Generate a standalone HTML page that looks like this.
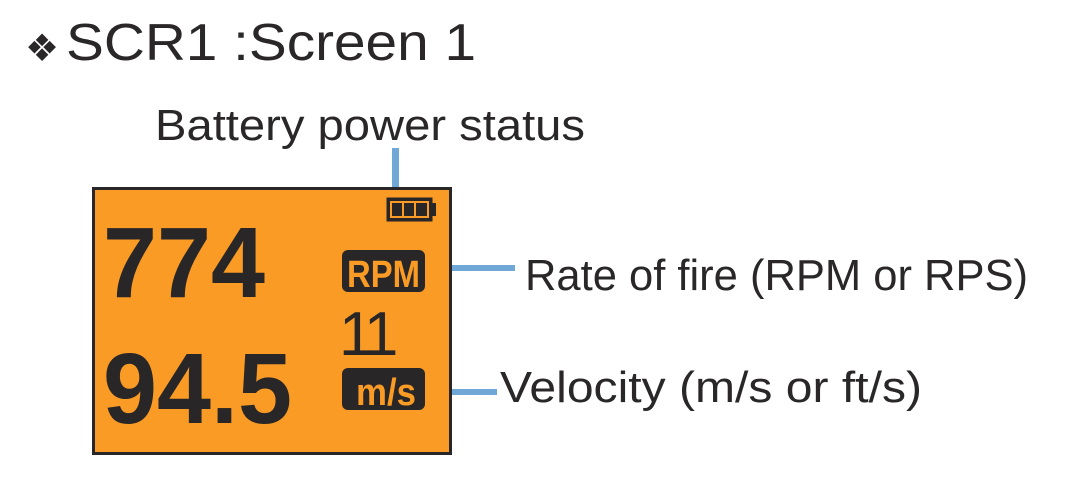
<!DOCTYPE html>
<html><head><meta charset="utf-8"><style>
html,body{margin:0;padding:0;background:#fff;width:1072px;height:489px;overflow:hidden}
svg{display:block}
</style></head><body>
<svg width="1072" height="489" viewBox="0 0 1072 489" xmlns="http://www.w3.org/2000/svg">
<g font-family="Liberation Sans, sans-serif" fill="#2a2728">
  <text x="25" y="61" font-size="38">❖</text>
  <text x="66" y="60" font-size="52" textLength="410" lengthAdjust="spacingAndGlyphs">SCR1 :Screen 1</text>
  <text x="155" y="140" font-size="44" textLength="430" lengthAdjust="spacingAndGlyphs">Battery power status</text>
  <text x="525" y="290" font-size="44" textLength="503" lengthAdjust="spacingAndGlyphs">Rate of fire (RPM or RPS)</text>
  <text x="500" y="402" font-size="44" textLength="422" lengthAdjust="spacingAndGlyphs">Velocity (m/s or ft/s)</text>
</g>
<rect x="392" y="148" width="7" height="48" fill="#6fa8d6"/>
<rect x="425" y="265" width="90" height="6" fill="#6fa8d6"/>
<rect x="425" y="389" width="72" height="6" fill="#6fa8d6"/>
<rect x="93.5" y="188.5" width="357" height="265" fill="#f99b25" stroke="#282627" stroke-width="3"/>
<rect x="386.5" y="197.5" width="46" height="24" fill="#282627"/>
<rect x="432" y="203" width="4" height="13" fill="#282627"/>
<rect x="390" y="201" width="39" height="17" fill="#f99b25"/>
<rect x="392" y="203" width="10" height="13" fill="#282627"/>
<rect x="404" y="203" width="10" height="13" fill="#282627"/>
<rect x="416" y="203" width="11" height="13" fill="#282627"/>
<rect x="342" y="250" width="83" height="42" rx="6" fill="#282627"/>
<rect x="342" y="368" width="83" height="42" rx="6" fill="#282627"/>
<g font-family="Liberation Sans, sans-serif" font-weight="bold" fill="#f99b25">
  <text x="347" y="287" font-size="38" textLength="73" lengthAdjust="spacingAndGlyphs">RPM</text>
  <text x="356" y="405" font-size="38" textLength="60" lengthAdjust="spacingAndGlyphs">m/s</text>
</g>
<g font-family="Liberation Sans, sans-serif" fill="#282627">
  <text x="103" y="297" font-size="100" font-weight="bold" textLength="162" lengthAdjust="spacingAndGlyphs">774</text>
  <text x="103" y="423" font-size="100" font-weight="bold" textLength="189" lengthAdjust="spacingAndGlyphs">94.5</text>
  <text x="339" y="355" font-size="62" letter-spacing="-5">1<tspan dx="0">1</tspan></text>
</g>
</svg>
</body></html>
